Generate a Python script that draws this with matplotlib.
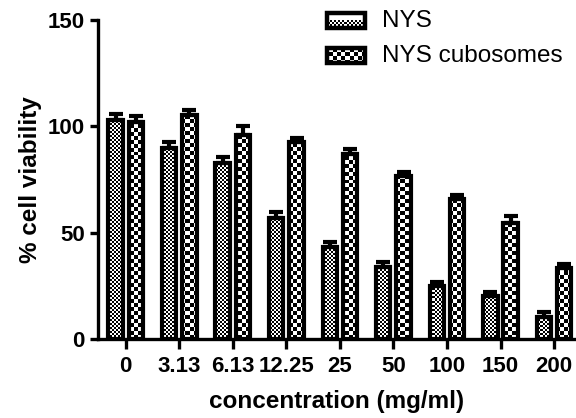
import matplotlib
matplotlib.use('Agg')
import matplotlib.pyplot as plt
from matplotlib.patches import Rectangle
import numpy as np

# data
conc_labels = ['0', '3.13', '6.13', '12.25', '25', '50', '100', '150', '200']
nys = [103, 90, 83, 57, 43.5, 34, 25, 20, 10.5]
nys_err = [3, 2.5, 2.5, 2.8, 2, 2, 1.6, 2.3, 2.3]
cubo = [102, 105.5, 96, 92.5, 87, 76.5, 66, 54.5, 33.5]
cubo_err = [3, 2, 4, 2, 2.3, 2, 1.7, 3.4, 2]

plt.rcParams['font.family'] = ['Liberation Sans', 'DejaVu Sans']

fig = plt.figure(figsize=(5.76, 4.18), dpi=100)
ax = fig.add_axes([0.170, 0.189, 0.830, 0.763])

x = np.arange(len(conc_labels))
w = 0.27
off = 0.19
XL = (-0.52, 8.41)
YL = (0, 150)


def checker(nx, ny):
    i, j = np.indices((ny, nx))
    return ((i + j) % 2).astype(float)


fine = checker(239, 160)
coarse = checker(120, 80)


def draw_bars(xpos, vals, errs, pat):
    bars = ax.bar(xpos, vals, w, color='white', edgecolor='none', zorder=1)
    for b in bars:
        im = ax.imshow(pat, cmap='gray', vmin=0, vmax=1, extent=(XL[0], XL[1], YL[0], YL[1]),
                       aspect='auto', interpolation='nearest', zorder=1.5)
        im.set_clip_path(b)
    ax.bar(xpos, vals, w, fill=False, edgecolor='black', linewidth=3.0, zorder=2)
    ax.errorbar(xpos, vals, yerr=[np.zeros(len(vals)), errs], fmt='none', ecolor='black',
                elinewidth=3, capsize=4.8, capthick=3, zorder=3)


draw_bars(x - off, nys, nys_err, fine)
draw_bars(x + off, cubo, cubo_err, coarse)

# legend drawn by hand
leg = [('NYS', fine, 0.975), ('NYS cubosomes', coarse, 0.865)]
for name, pat, y0 in leg:
    r = Rectangle((0.479, y0), 0.0795, 0.047, transform=ax.transAxes, facecolor='white',
                  edgecolor='none', clip_on=False)
    ax.add_patch(r)
    im = ax.imshow(pat, cmap='gray', vmin=0, vmax=1, extent=(0, 1, 0, 1), transform=ax.transAxes,
                   aspect='auto', interpolation='nearest', zorder=1.5)
    im.set_clip_path(r)
    ax.add_patch(Rectangle((0.479, y0), 0.0795, 0.047, transform=ax.transAxes, fill=False,
                           edgecolor='black', linewidth=3.2, clip_on=False, zorder=2))
    ax.text(0.594, y0 + 0.0235, name, transform=ax.transAxes, fontsize=17.5, va='center', ha='left')

ax.set_xlim(XL)
ax.set_ylim(YL)
ax.set_xticks(x)
ax.set_xticklabels(conc_labels, fontsize=16, fontweight='bold')
ax.set_yticks([0, 50, 100, 150])
ax.set_yticklabels(['0', '50', '100', '150'], fontsize=16, fontweight='bold')
ax.tick_params(width=2.4, length=6, direction='out')
ax.tick_params(axis='x', length=7.5, pad=5)
for s in ['top', 'right']:
    ax.spines[s].set_visible(False)
for s in ['left', 'bottom']:
    ax.spines[s].set_linewidth(2.4)
ax.set_xlabel('concentration (mg/ml)', fontsize=17.5, fontweight='bold', labelpad=9)
ax.set_ylabel('% cell viability', fontsize=17.5, fontweight='bold', labelpad=4)

plt.savefig('out.png', dpi=100)
